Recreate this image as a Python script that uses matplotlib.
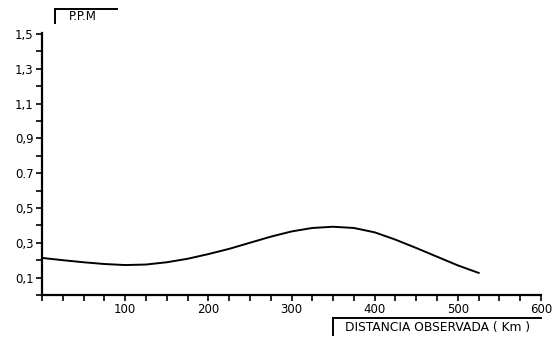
import numpy as np
import matplotlib.pyplot as plt
from matplotlib.ticker import MultipleLocator, FixedLocator

# curve
dist_km = [0, 25, 50, 75, 100, 125, 150, 175, 200, 225, 250, 275, 300,
           325, 350, 375, 400, 425, 450, 475, 500, 525]
ppm = [0.213, 0.200, 0.188, 0.178, 0.172, 0.175, 0.188, 0.208, 0.235, 0.265,
       0.300, 0.335, 0.365, 0.385, 0.392, 0.385, 0.360, 0.318, 0.270, 0.220,
       0.170, 0.127]

y_ticks = [0.1, 0.3, 0.5, 0.7, 0.9, 1.1, 1.3, 1.5]
y_labels = ["0,1", "0,3", "0,5", "0.7", "0,9", "1,1", "1,3", "1,5"]
x_ticks = [100, 200, 300, 400, 500, 600]

plt.rcParams['font.family'] = ['Liberation Sans Narrow', 'DejaVu Sans']

fig = plt.figure(figsize=(5.57, 3.40), dpi=100)
ax = fig.add_axes([42/557, 1 - 295/340, (541-42)/557, (295-33)/340])

ax.plot(dist_km, ppm, color='black', lw=1.4)

ax.set_xlim(0, 600)
ax.set_ylim(0, 1.505)
ax.spines['top'].set_visible(False)
ax.spines['right'].set_visible(False)
ax.spines['left'].set_linewidth(1.6)
ax.spines['bottom'].set_linewidth(1.6)

ax.xaxis.set_major_locator(FixedLocator(x_ticks))
ax.xaxis.set_minor_locator(MultipleLocator(25))
ax.yaxis.set_major_locator(FixedLocator(y_ticks))
ax.set_yticklabels(y_labels)
ax.yaxis.set_minor_locator(MultipleLocator(0.1))
ax.tick_params(which='both', direction='out', length=4, width=1.2,
               labelsize=8.5, pad=2)

# axis titles with their bracket lines, as in the original
fig.add_artist(plt.Line2D([55/557, 117/557], [1 - 9/340, 1 - 9/340],
                          color='black', lw=1.4))
fig.add_artist(plt.Line2D([55/557, 55/557], [1 - 9/340, 1 - 23/340],
                          color='black', lw=1.4))
fig.text(69/557, 1 - 17/340, "P.P.M", fontsize=8.5, va='center', ha='left')

fig.add_artist(plt.Line2D([333/557, 541/557], [1 - 318/340, 1 - 318/340],
                          color='black', lw=1.4))
fig.add_artist(plt.Line2D([333/557, 333/557], [1 - 318/340, 1 - 335/340],
                          color='black', lw=1.4))
fig.text(345/557, 1 - 327/340, "DISTANCIA OBSERVADA ( Km )", fontsize=8.8,
         va='center', ha='left')

fig.savefig("out.png", dpi=100)
